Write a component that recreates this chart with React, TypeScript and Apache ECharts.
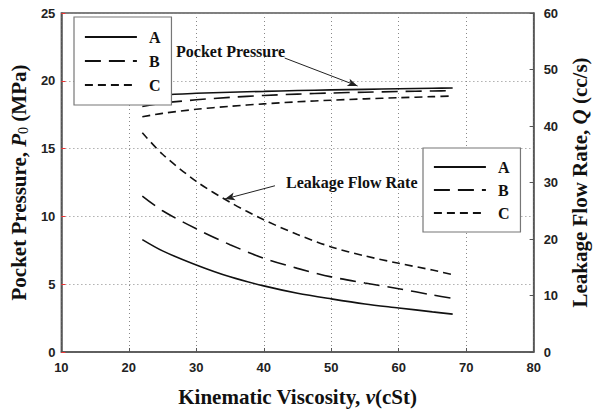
import React, { useEffect, useRef } from "react";
import * as echarts from "echarts";

// Kinematic viscosity (cSt)
const viscosity = [22, 25, 30, 35, 40, 45, 50, 55, 60, 65, 68];
// Pocket pressure P0 (MPa) — left axis
const pressureA = [18.75, 18.95, 19.08, 19.16, 19.22, 19.28, 19.33, 19.37, 19.41, 19.45, 19.47];
const pressureB = [18.1, 18.35, 18.6, 18.78, 18.92, 19.02, 19.1, 19.16, 19.21, 19.25, 19.27];
const pressureC = [17.35, 17.6, 17.9, 18.12, 18.3, 18.45, 18.57, 18.67, 18.75, 18.83, 18.88];
// Leakage flow rate Q (cc/s) — right axis
const flowA = [19.9, 17.9, 15.4, 13.3, 11.7, 10.4, 9.4, 8.5, 7.8, 7.1, 6.7];
const flowB = [27.6, 25.0, 21.8, 19.0, 16.6, 14.8, 13.3, 12.2, 11.2, 10.1, 9.5];
const flowC = [38.8, 35.0, 30.2, 26.5, 23.4, 20.8, 18.6, 17.0, 15.7, 14.5, 13.7];
const seriesNames = ["A", "B", "C"];

// Annotation arrows in data coordinates (x, left-axis value)
const pressureArrow = [[43.1, 21.68], [53.9, 19.62]];
const flowArrow = [[41.66, 12.26], [34.24, 11.28]];

const serif = "'Liberation Serif', 'Times New Roman', serif";
const sans = "'Liberation Sans', Arial, sans-serif";

const dashes: Record<string, any> = {
  A: "solid",
  B: [16, 8],
  C: [8, 5],
};

function pairs(xs: number[], ys: number[]) {
  return xs.map((x, i) => [x, ys[i]]);
}

export default function App() {
  const ref = useRef<HTMLDivElement>(null);
  useEffect(() => {
    const chart = echarts.init(ref.current!, null, { renderer: "svg" });
    const mkSeries = (name: string, data: number[], yAxisIndex: number, extra: any = {}) => ({
      type: "line",
      name,
      yAxisIndex,
      data: pairs(viscosity, data),
      smooth: 0.3,
      symbol: "none",
      showSymbol: false,
      lineStyle: { color: "#111", width: 1.6, type: dashes[name] },
      itemStyle: { color: "#111" },
      z: 2,
      ...extra,
    });
    const axisLabel = { fontFamily: sans, fontWeight: "bold", fontSize: 13, color: "#222" };
    const axisLine = { show: true, lineStyle: { color: "#555", width: 1.5 } };
    const titleRich = {
      a: { fontFamily: serif, fontWeight: "bold", fontSize: 21, color: "#111" },
      i: { fontFamily: serif, fontWeight: "bold", fontStyle: "italic", fontSize: 21, color: "#111" },
      s: { fontFamily: serif, fontSize: 14, color: "#111", verticalAlign: "bottom", padding: [9, 0, 0, 0] },
    };
    const legendBase = {
      orient: "vertical",
      data: seriesNames,
      itemWidth: 52,
      itemHeight: 14,
      backgroundColor: "#fff",
      borderColor: "#777",
      borderWidth: 1.2,
      selectedMode: false,
      itemStyle: { opacity: 0, borderWidth: 0 },
      lineStyle: { width: 1.8 },
      textStyle: { fontFamily: serif, fontWeight: "bold", fontSize: 16, color: "#111", padding: [0, 0, 0, 7] },
      z: 5,
    };
    const option: any = {
      animation: false,
      backgroundColor: "#fff",
      grid: { left: 61, right: 49, top: 13, bottom: 64, show: true, borderColor: "#555", borderWidth: 1.5, backgroundColor: "transparent" },
      legend: [
        { ...legendBase, left: 74, top: 17, itemGap: 8, padding: [12, 11, 12, 10] },
        { ...legendBase, left: 423, top: 148, itemGap: 7, padding: [11, 11, 11, 10] },
      ],
      xAxis: {
        type: "value",
        min: 10,
        max: 80,
        interval: 10,
        name: "{a|Kinematic Viscosity, }{i|v}{a|(cSt)}",
        nameLocation: "middle",
        nameGap: 34,
        nameTextStyle: { rich: titleRich },
        axisLine,
        axisTick: { show: true, inside: true, length: 4, lineStyle: { color: "#555" } },
        axisLabel: { ...axisLabel, margin: 9 },
        splitLine: { show: true, lineStyle: { color: "#888", type: [1, 3], width: 1 } },
      },
      yAxis: [
        {
          type: "value",
          position: "left",
          min: 0,
          max: 25,
          interval: 5,
          name: "{a|Pocket Pressure, }{i|P}{s|0}{a| (MPa)}",
          nameLocation: "middle",
          nameGap: 30,
          nameTextStyle: { rich: titleRich },
          axisLine,
          axisTick: { show: true, inside: true, length: 4, lineStyle: { color: "#e33" } },
          axisLabel: { ...axisLabel, margin: 6 },
          splitLine: { show: true, lineStyle: { color: "#888", type: [1, 3], width: 1 } },
        },
        {
          type: "value",
          position: "right",
          min: 0,
          max: 60,
          interval: 10,
          name: "{a|Leakage Flow Rate, }{i|Q}{a| (cc/s)}",
          nameLocation: "middle",
          nameGap: 30,
          nameTextStyle: { rich: titleRich },
          axisLine,
          axisTick: { show: true, inside: true, length: 4, lineStyle: { color: "#555" } },
          axisLabel: { ...axisLabel, margin: 10 },
          splitLine: { show: false },
        },
      ],
      graphic: [
        {
          type: "text",
          left: 176,
          top: 43,
          z: 10,
          style: { text: "Pocket Pressure", font: `bold 16px ${serif}`, fill: "#111" },
        },
        {
          type: "text",
          left: 286,
          top: 174,
          z: 10,
          style: { text: "Leakage Flow Rate", font: `bold 16px ${serif}`, fill: "#111" },
        },
      ],
      series: [
        mkSeries("A", pressureA, 0, {
          markLine: {
            silent: true,
            symbol: ["none", "arrow"],
            symbolSize: [6, 10],
            lineStyle: { color: "#222", width: 1, type: "solid" },
            label: { show: false },
            data: [
              [{ coord: pressureArrow[0] }, { coord: pressureArrow[1] }],
              [{ coord: flowArrow[0] }, { coord: flowArrow[1] }],
            ],
          },
        }),
        mkSeries("B", pressureB, 0),
        mkSeries("C", pressureC, 0),
        mkSeries("A", flowA, 1),
        mkSeries("B", flowB, 1),
        mkSeries("C", flowC, 1),
      ],
    };
    chart.setOption(option);
    return () => chart.dispose();
  }, []);
  return <div ref={ref} style={{ position: "fixed", left: 0, top: 0, width: 598, height: 416 }} />;
}
